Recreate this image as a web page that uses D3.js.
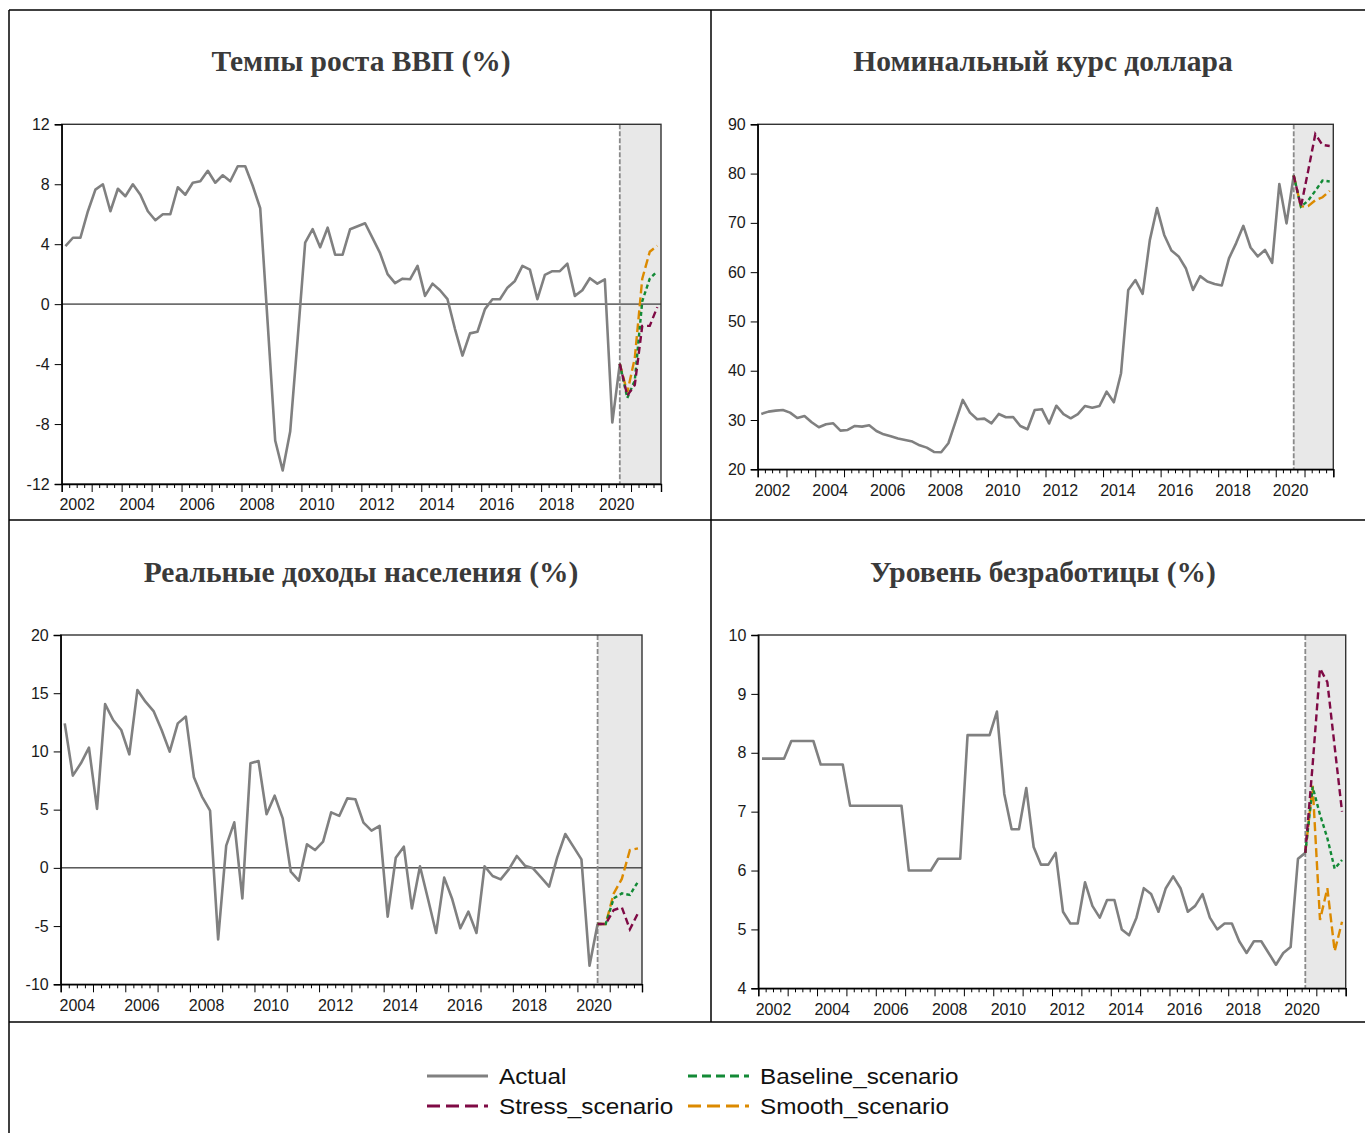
<!DOCTYPE html>
<html><head><meta charset="utf-8">
<script src="https://cdn.jsdelivr.net/npm/d3@7"></script>
<style>body{margin:0;background:#fff} svg{display:block}</style></head><body>
<svg id="c" width="1365" height="1133"></svg>
<script>
// ---------- DATA ----------
// GDP growth (%), quarterly 2002Q1..2020Q3
const gdpActual = [3.87,4.43,4.43,6.2,7.64,8.0,6.2,7.7,7.2,8.0,7.3,6.2,5.6,6.0,6.0,7.8,7.3,8.1,8.2,8.9,
  8.1,8.6,8.2,9.2,9.2,7.9,6.4,-1.3,-9.1,-11.1,-8.5,-2.3,4.1,5.0,3.8,5.1,3.3,3.3,5.0,5.2,
  5.4,4.4,3.4,2.0,1.4,1.7,1.66,2.55,0.55,1.37,0.93,0.33,-1.66,-3.43,-1.95,-1.84,-0.33,0.33,0.33,1.1,
  1.55,2.55,2.3,0.33,1.95,2.2,2.2,2.7,0.55,0.93,1.73,1.37,1.66,-7.9,-3.98];
// forecasts 2020Q3..2021Q4
const gdpStress   = [-3.98,-6.1,-5.4,-1.45,-1.45,-0.2];
const gdpBaseline = [-3.98,-6.26,-5.1,0.2,1.7,2.2];
const gdpSmooth   = [-3.98,-5.9,-3.6,1.7,3.5,3.9];

// USD/RUB nominal, 2002Q1..2020Q3
const usdActual = [31.23,31.70,31.90,32.04,31.50,30.42,30.82,29.54,28.52,29.13,29.33,27.85,27.98,28.79,28.66,28.93,
  27.78,27.10,26.70,26.23,25.95,25.62,24.87,24.40,23.52,23.45,25.28,29.67,34.07,31.50,30.15,30.28,29.33,31.23,
  30.56,30.62,28.79,28.12,32.04,32.2,29.3,32.9,31.2,30.35,31.2,32.85,32.5,32.85,35.76,33.6,39.5,56.4,58.4,55.6,
  66.5,73.0,67.55,64.4,63.2,60.8,56.4,59.2,58.1,57.6,57.3,62.8,65.9,69.4,65.0,63.2,64.5,61.9,77.9,69.9,79.6];
const usdStress   = [79.6,73.3,80.5,88.0,85.8,85.6];
const usdBaseline = [79.6,73.3,74.5,76.5,78.6,78.4];
const usdSmooth   = [79.6,73.3,73.4,74.6,75.2,76.5];

// Real disposable income (%), 2004Q1..2020Q3
const incActual = [12.41,7.92,8.98,10.32,5.06,14.07,12.70,11.84,9.75,15.28,14.27,13.47,11.84,9.98,12.41,12.99,
  7.78,6.12,4.91,-6.14,1.91,3.91,-2.62,8.98,9.18,4.60,6.20,4.25,-0.33,-1.1,2.02,1.53,2.25,4.77,4.46,
  5.97,5.89,3.88,3.2,3.6,-4.19,0.86,1.82,-3.48,0.14,-2.7,-5.59,-0.84,-2.7,-5.19,-3.76,-5.59,0.14,-0.7,-0.99,
  -0.13,1.02,0.19,-0.04,-0.81,-1.61,0.9,2.91,1.82,0.73,-8.4,-4.82];
const incStress   = [-4.82,-4.82,-3.62,-3.39,-5.28,-3.9];
const incBaseline = [-4.82,-4.82,-2.62,-2.19,-2.33,-1.19];
const incSmooth   = [-4.82,-4.82,-2.19,-0.95,1.53,1.68];

// Unemployment (%), 2002Q1..2020Q3
const unActual = [7.9,7.9,7.9,7.9,8.2,8.2,8.2,8.2,7.8,7.8,7.8,7.8,7.1,7.1,7.1,7.1,7.1,7.1,7.1,7.1,
  6.0,6.0,6.0,6.0,6.2,6.2,6.2,6.2,8.3,8.3,8.3,8.3,8.7,7.3,6.7,6.7,7.4,6.4,6.1,6.1,
  6.3,5.3,5.1,5.1,5.8,5.4,5.2,5.5,5.5,5.0,4.9,5.2,5.7,5.6,5.3,5.7,5.9,5.7,5.3,5.4,
  5.6,5.2,5.0,5.1,5.1,4.8,4.6,4.8,4.8,4.6,4.4,4.6,4.7,6.2,6.3];
const unStress   = [6.3,7.8,9.43,9.2,8.1,7.0];
const unBaseline = [6.3,7.42,6.95,6.55,6.03,6.18];
const unSmooth   = [6.3,7.44,5.16,5.7,4.63,5.13];

const gdpTicks = [-12,-8,-4,0,4,8,12];
const usdTicks = [20,30,40,50,60,70,80,90];
const incTicks = [-10,-5,0,5,10,15,20];
const unTicks  = [4,5,6,7,8,9,10];

const titles = ["Темпы роста ВВП (%)","Номинальный курс доллара","Реальные доходы населения (%)","Уровень безработицы (%)"];
const legendLabels = ["Actual","Stress_scenario","Baseline_scenario","Smooth_scenario"];

// ---------- STYLE ----------
const C = {actual:"#808080", stress:"#7f0a45", base:"#138a36", smooth:"#dc8a00"};
const svg = d3.select("#c");
const SANS = "'Liberation Sans', Arial, sans-serif";
const SERIF = "'Liberation Serif', 'Times New Roman', serif";

// frame lines
const frame = svg.append("g").attr("stroke","#000").attr("stroke-width",1.5);
[[9,10,1365,10],[9,10,9,1133],[711,10,711,1022],[9,520,1365,520],[9,1022,1365,1022]].forEach(l=>{
  frame.append("line").attr("x1",l[0]).attr("y1",l[1]).attr("x2",l[2]).attr("y2",l[3]);
});

function panel(p){
  const g = svg.append("g");
  const x = d3.scaleLinear().domain([p.start, 2022]).range([p.x0, p.x1]);
  const y = d3.scaleLinear().domain(p.domain).range([p.y1, p.y0]);
  const fcStart = 2020 + 2.5/4;
  // shading
  g.append("rect").attr("x", x(fcStart)).attr("y", p.y0).attr("width", p.x1 - x(fcStart)).attr("height", p.y1 - p.y0)
    .attr("fill","#e8e8e8");
  // zero line
  if (p.zero) g.append("line").attr("x1",p.x0).attr("x2",p.x1).attr("y1",y(0)).attr("y2",y(0))
    .attr("stroke",p.zeroColor).attr("stroke-width",p.zeroW);
  // forecast vertical line
  g.append("line").attr("x1",x(fcStart)).attr("x2",x(fcStart)).attr("y1",p.y0).attr("y2",p.y1)
    .attr("stroke","#8a8a8a").attr("stroke-width",1.8).attr("stroke-dasharray","5,2");
  // frame
  g.append("rect").attr("x",p.x0).attr("y",p.y0).attr("width",p.x1-p.x0).attr("height",p.y1-p.y0)
    .attr("fill","none").attr("stroke","#333").attr("stroke-width",1.4);

  const line = d3.line().x(d=>x(d.t)).y(d=>y(d.v));
  const act = p.actual.map((v,i)=>({t:p.start+(i+0.5)/4, v}));
  g.append("path").datum(act).attr("d",line).attr("fill","none").attr("stroke",C.actual).attr("stroke-width",2.6)
    .attr("stroke-linejoin","round");
  const fc = (arr)=>arr.map((v,k)=>({t:2020+(2+k+0.5)/4, v}));
  const series = [[p.smooth,C.smooth,"9,4"],[p.base,C.base,"4,3"],[p.stress,C.stress,"7,4"]];
  series.forEach(s=>{
    g.append("path").datum(fc(s[0])).attr("d",line).attr("fill","none").attr("stroke",s[1])
      .attr("stroke-width",2.4).attr("stroke-dasharray",s[2]);
  });

  // y axis
  const ya = g.append("g").attr("transform",`translate(${p.x0},0)`)
    .call(d3.axisLeft(y).tickValues(p.ticks).tickSize(7).tickPadding(5).tickFormat(d=>String(d)));
  ya.select(".domain").attr("stroke","#000").attr("stroke-width",1.4);
  ya.selectAll(".tick line").attr("stroke","#000");
  ya.selectAll("text").attr("font-family",SANS).attr("font-size",16).attr("fill","#1a1a1a");

  // x axis: quarters minor, years major, labels every 2 years
  const years = d3.range(p.start, 2023);
  const quarters = [];
  years.slice(0,-1).forEach(yr=>{ for (let q=1;q<4;q++) quarters.push(yr+q/4); });
  const xm = g.append("g").attr("transform",`translate(0,${p.y1})`)
    .call(d3.axisBottom(x).tickValues(quarters).tickSize(4).tickFormat(""));
  xm.select(".domain").remove();
  xm.selectAll(".tick line").attr("stroke","#000");
  const xM = g.append("g").attr("transform",`translate(0,${p.y1})`)
    .call(d3.axisBottom(x).tickValues(years).tickSize(8).tickFormat(""));
  xM.select(".domain").attr("stroke","#000").attr("stroke-width",1.4);
  xM.selectAll(".tick line").attr("stroke","#000");
  const labYears = years.filter(yr => (yr - p.start) % 2 === 0 && yr <= 2020).map(yr=>yr+0.5);
  const xl = g.append("g").attr("transform",`translate(0,${p.y1})`)
    .call(d3.axisBottom(x).tickValues(labYears).tickSize(0).tickPadding(15).tickFormat(d=>String(Math.floor(d))));
  xl.select(".domain").remove();
  xl.selectAll("text").attr("font-family",SANS).attr("font-size",16).attr("fill","#1a1a1a");

  // title
  svg.append("text").attr("x",p.tx).attr("y",p.ty).attr("text-anchor","middle")
    .attr("font-family",SERIF).attr("font-weight","bold").attr("font-size",29.5).attr("fill","#3a3a3a")
    .text(p.title);
}

panel({title:titles[0], tx:361, ty:71, x0:61.7, x1:661, y0:124.3, y1:484, start:2002, domain:[-12,12], ticks:gdpTicks,
  actual:gdpActual, stress:gdpStress, base:gdpBaseline, smooth:gdpSmooth, zero:true, zeroColor:"#6e6e6e", zeroW:1.6});
panel({title:titles[1], tx:1043, ty:71, x0:757.7, x1:1333.3, y0:124.3, y1:469.3, start:2002, domain:[20,90], ticks:usdTicks,
  actual:usdActual, stress:usdStress, base:usdBaseline, smooth:usdSmooth, zero:false});
panel({title:titles[2], tx:361, ty:582, x0:60.7, x1:642, y0:635, y1:984.3, start:2004, domain:[-10,20], ticks:incTicks,
  actual:incActual, stress:incStress, base:incBaseline, smooth:incSmooth, zero:true, zeroColor:"#000", zeroW:1});
panel({title:titles[3], tx:1043, ty:582, x0:758.3, x1:1345.7, y0:635, y1:988.3, start:2002, domain:[4,10], ticks:unTicks,
  actual:unActual, stress:unStress, base:unBaseline, smooth:unSmooth, zero:false});

// legend
const leg = svg.append("g");
const items = [
  {lab:legendLabels[0], c:C.actual, dash:null, x:427, y:1076},
  {lab:legendLabels[1], c:C.stress, dash:"13,6", x:427, y:1106},
  {lab:legendLabels[2], c:C.base, dash:"9,5", x:688, y:1076},
  {lab:legendLabels[3], c:C.smooth, dash:"13,6", x:688, y:1106}
];
items.forEach(it=>{
  const l = leg.append("line").attr("x1",it.x).attr("x2",it.x+61).attr("y1",it.y).attr("y2",it.y)
    .attr("stroke",it.c).attr("stroke-width",3.2);
  if (it.dash) l.attr("stroke-dasharray",it.dash);
  leg.append("text").attr("transform",`translate(${it.x+72},${it.y+8}) scale(1.08,1)`)
    .attr("font-family",SANS).attr("font-size",22.5).attr("fill","#111").text(it.lab);
});
</script>
</body></html>
